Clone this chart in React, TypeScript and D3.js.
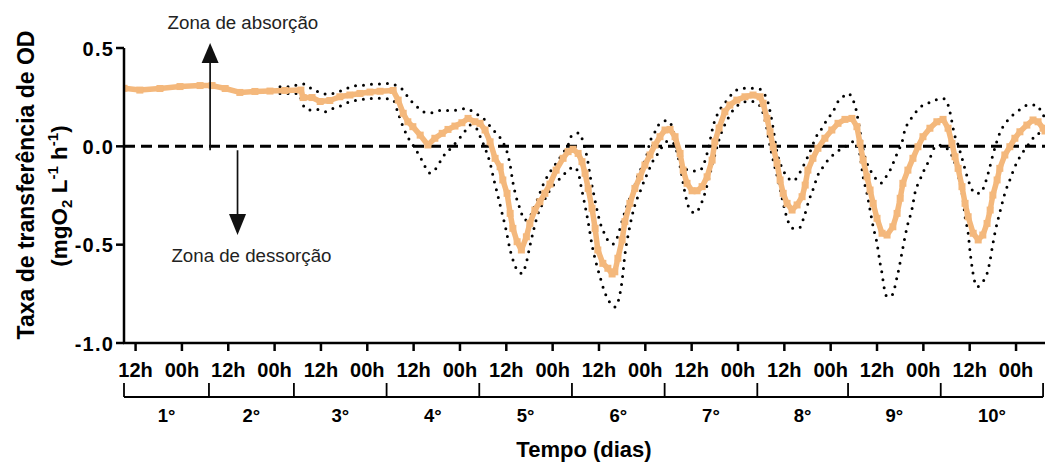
import React from 'react';
import * as d3 from 'd3';

// ---------- data (hours since day 1 00h, transfer rate) ----------
const mean: [number, number][] = [
[9.0,0.295],[13.1,0.286],[18.3,0.294],[23.5,0.304],[28.7,0.309],[31.8,0.309],[35.2,0.294],[39.0,0.274],[42.9,0.279],[46.8,0.281],[50.7,0.284],[54.8,0.286],[55.4,0.248],[57.7,0.248],[59.8,0.228],[62.3,0.233],[64.9,0.252],[67.5,0.261],[70.1,0.269],[72.7,0.276],[75.3,0.280],[78.7,0.284],[80.0,0.235],[81.3,0.168],[82.5,0.125],[83.8,0.100],[85.7,0.057],[87.7,0.007],[89.5,0.041],[91.4,0.066],[92.9,0.086],[94.7,0.103],[96.5,0.120],[98.1,0.142],[99.9,0.125],[101.2,0.117],[102.5,0.083],[103.8,0.023],[105.1,-0.061],[106.4,-0.104],[107.1,-0.171],[108.2,-0.239],[109.0,-0.341],[109.7,-0.417],[110.8,-0.485],[111.9,-0.527],[113.2,-0.460],[114.1,-0.392],[115.4,-0.324],[116.7,-0.282],[118.0,-0.239],[119.3,-0.192],[120.9,-0.121],[122.7,-0.061],[124.0,-0.027],[125.3,-0.015],[126.6,-0.036],[127.6,-0.078],[128.4,-0.137],[129.2,-0.214],[130.2,-0.315],[131.0,-0.417],[131.7,-0.527],[133.0,-0.595],[134.3,-0.620],[135.4,-0.649],[136.1,-0.638],[136.9,-0.569],[138.0,-0.476],[138.7,-0.383],[140.0,-0.290],[141.3,-0.214],[142.6,-0.155],[143.9,-0.095],[145.2,-0.044],[146.5,0.007],[147.8,0.049],[149.1,0.083],[150.4,0.086],[151.7,0.049],[153.0,-0.036],[153.8,-0.121],[154.8,-0.188],[156.1,-0.226],[157.4,-0.226],[158.7,-0.205],[160.0,-0.155],[161.3,-0.070],[162.0,0.023],[163.1,0.093],[164.6,0.176],[165.9,0.210],[167.7,0.235],[169.8,0.252],[171.9,0.261],[173.7,0.252],[174.5,0.219],[175.5,0.142],[176.3,0.074],[177.1,-0.002],[178.1,-0.086],[178.9,-0.171],[179.7,-0.239],[180.7,-0.290],[182.0,-0.324],[183.3,-0.298],[184.6,-0.256],[185.4,-0.197],[186.1,-0.121],[187.4,-0.061],[188.7,-0.010],[190.5,0.041],[192.3,0.083],[193.9,0.117],[195.7,0.137],[197.5,0.142],[198.8,0.100],[199.6,0.015],[200.4,-0.070],[201.4,-0.155],[202.2,-0.222],[203.0,-0.290],[204.0,-0.366],[205.3,-0.442],[206.6,-0.451],[208.1,-0.409],[209.2,-0.341],[210.0,-0.264],[210.7,-0.188],[212.0,-0.121],[213.3,-0.061],[214.6,-0.002],[215.9,0.049],[217.7,0.092],[219.5,0.125],[221.1,0.137],[222.4,0.092],[223.4,0.015],[224.2,-0.053],[225.0,-0.112],[226.0,-0.205],[226.8,-0.290],[227.6,-0.358],[228.9,-0.442],[230.2,-0.476],[231.4,-0.451],[232.5,-0.392],[233.3,-0.324],[234.0,-0.248],[235.1,-0.171],[235.8,-0.112],[237.1,-0.044],[238.4,-0.002],[239.7,0.041],[241.0,0.074],[242.8,0.108],[244.4,0.134],[245.7,0.125],[247.0,0.092],[247.5,0.078]
];

const upper: [number, number][] = [
[49.4,0.303],[52.0,0.303],[53.8,0.312],[55.9,0.317],[57.7,0.291],[59.8,0.275],[61.8,0.264],[64.2,0.275],[66.2,0.290],[68.3,0.307],[70.6,0.310],[72.7,0.315],[75.0,0.317],[77.4,0.320],[79.7,0.308],[81.3,0.286],[82.5,0.252],[84.9,0.201],[87.0,0.173],[89.0,0.171],[90.8,0.182],[93.4,0.182],[95.5,0.185],[97.6,0.192],[99.9,0.169],[102.2,0.139],[104.6,0.083],[105.9,0.057],[107.1,0.022],[108.2,-0.029],[109.0,-0.095],[109.7,-0.182],[110.5,-0.253],[111.5,-0.314],[112.8,-0.375],[113.9,-0.365],[114.9,-0.324],[116.2,-0.263],[117.5,-0.197],[119.3,-0.131],[121.1,-0.080],[122.7,-0.034],[124.0,0.007],[125.0,0.057],[126.8,0.068],[127.9,0.022],[128.9,-0.054],[129.9,-0.171],[130.7,-0.248],[131.5,-0.324],[132.5,-0.400],[133.6,-0.451],[134.6,-0.487],[135.6,-0.497],[136.7,-0.466],[137.7,-0.400],[138.7,-0.334],[139.5,-0.288],[141.3,-0.197],[142.1,-0.146],[143.4,-0.095],[144.4,-0.044],[145.2,0.022],[146.5,0.073],[147.8,0.118],[149.6,0.131],[150.9,0.103],[151.7,0.032],[152.7,-0.044],[153.8,-0.100],[155.1,-0.121],[156.9,-0.126],[158.2,-0.121],[159.5,-0.070],[160.8,0.032],[161.5,0.098],[162.8,0.169],[164.6,0.220],[166.7,0.271],[168.8,0.295],[171.4,0.295],[173.7,0.291],[174.7,0.271],[175.8,0.220],[176.5,0.159],[177.3,0.068],[178.1,-0.029],[179.1,-0.095],[180.4,-0.146],[182.2,-0.176],[184.1,-0.131],[185.4,-0.080],[186.4,-0.039],[188.2,0.047],[189.8,0.093],[191.0,0.134],[192.6,0.176],[193.9,0.227],[195.2,0.252],[196.5,0.269],[197.8,0.235],[198.6,0.185],[199.1,0.134],[199.9,0.042],[200.6,-0.034],[201.4,-0.085],[202.7,-0.136],[204.0,-0.171],[205.0,-0.187],[206.3,-0.156],[207.4,-0.121],[208.4,-0.075],[209.4,-0.027],[210.5,0.023],[211.2,0.083],[212.3,0.125],[213.8,0.168],[215.1,0.198],[217.2,0.219],[219.0,0.235],[221.1,0.244],[222.4,0.210],[223.4,0.125],[223.9,0.073],[225.0,0.007],[226.0,-0.059],[227.0,-0.131],[228.1,-0.197],[229.4,-0.239],[230.7,-0.239],[232.0,-0.188],[233.0,-0.121],[234.0,-0.044],[235.8,0.068],[237.9,0.134],[239.7,0.168],[241.5,0.193],[243.1,0.210],[245.4,0.210],[246.7,0.169],[247.5,0.144]
];

const lower: [number, number][] = [
[49.4,0.269],[52.0,0.269],[54.1,0.269],[55.9,0.193],[57.2,0.185],[59.0,0.188],[61.1,0.176],[63.1,0.193],[65.7,0.210],[67.5,0.227],[69.6,0.235],[71.9,0.241],[74.0,0.244],[76.1,0.244],[78.7,0.235],[80.0,0.168],[81.3,0.098],[82.5,0.047],[83.8,0.007],[85.7,-0.054],[87.0,-0.104],[88.2,-0.136],[90.1,-0.105],[91.4,-0.059],[93.9,-0.004],[95.5,0.032],[97.0,0.068],[98.6,0.108],[100.2,0.093],[101.4,0.042],[102.7,-0.019],[103.8,-0.085],[104.8,-0.171],[105.9,-0.258],[106.9,-0.339],[107.9,-0.421],[109.0,-0.527],[110.0,-0.593],[111.0,-0.634],[112.1,-0.646],[113.1,-0.598],[114.1,-0.507],[115.2,-0.415],[116.2,-0.344],[117.5,-0.288],[119.3,-0.222],[120.9,-0.182],[122.4,-0.155],[124.0,-0.121],[125.5,-0.105],[126.6,-0.131],[127.3,-0.197],[128.1,-0.273],[129.2,-0.385],[130.2,-0.502],[131.2,-0.588],[132.3,-0.665],[133.3,-0.731],[134.6,-0.787],[136.1,-0.817],[137.2,-0.771],[138.0,-0.680],[138.7,-0.553],[139.8,-0.426],[141.3,-0.298],[142.6,-0.232],[143.7,-0.176],[144.7,-0.131],[145.7,-0.085],[147.0,-0.044],[148.3,-0.004],[149.9,0.027],[151.2,0.017],[152.2,-0.029],[153.2,-0.121],[154.5,-0.258],[155.6,-0.324],[156.9,-0.339],[158.2,-0.304],[159.2,-0.253],[160.8,-0.136],[162.0,-0.044],[163.3,0.047],[165.2,0.134],[167.2,0.195],[169.0,0.220],[171.1,0.230],[172.9,0.220],[174.2,0.185],[175.3,0.108],[176.0,0.032],[176.8,-0.044],[177.6,-0.110],[178.6,-0.187],[179.7,-0.288],[181.0,-0.383],[182.2,-0.417],[183.8,-0.417],[185.1,-0.359],[186.4,-0.273],[187.7,-0.205],[188.5,-0.155],[190.0,-0.105],[191.3,-0.070],[193.1,-0.036],[194.9,-0.010],[196.5,0.007],[197.8,0.023],[198.8,0.017],[199.6,-0.044],[200.4,-0.155],[201.4,-0.239],[202.2,-0.324],[203.0,-0.409],[204.0,-0.493],[204.8,-0.595],[205.3,-0.646],[205.8,-0.714],[206.6,-0.765],[207.9,-0.756],[209.2,-0.663],[209.7,-0.619],[210.5,-0.536],[211.8,-0.409],[213.1,-0.315],[213.8,-0.239],[215.1,-0.171],[216.2,-0.121],[217.7,-0.061],[218.5,-0.019],[219.8,0.007],[221.6,-0.004],[222.9,-0.029],[223.9,-0.070],[224.7,-0.121],[225.5,-0.188],[226.3,-0.273],[226.8,-0.358],[227.6,-0.441],[228.1,-0.536],[228.6,-0.612],[229.1,-0.671],[229.9,-0.714],[231.4,-0.688],[232.5,-0.646],[233.3,-0.578],[233.8,-0.519],[234.6,-0.434],[235.3,-0.375],[236.4,-0.290],[237.1,-0.239],[238.4,-0.171],[239.7,-0.104],[241.0,-0.053],[242.8,-0.002],[244.4,0.041],[245.7,0.066],[247.0,0.057],[247.5,0.047]
];

const yTicks = [0.5, 0.0, -0.5, -1.0];
const yTickLabels = ['0.5', '0.0', '-0.5', '-1.0'];
const xTickHours = [12, 24, 36, 48, 60, 72, 84, 96, 108, 120, 132, 144, 156, 168, 180, 192, 204, 216, 228, 240];
const xTickLabels = ['12h','00h','12h','00h','12h','00h','12h','00h','12h','00h','12h','00h','12h','00h','12h','00h','12h','00h','12h','00h'];
const dayBounds = [9, 31, 53, 77, 101, 125, 149, 173, 196.5, 220.5, 247];
const dayLabels = ['1°','2°','3°','4°','5°','6°','7°','8°','9°','10°'];

// annotation anchors in data units
const arrowUp = { t: 31.3, from: -0.02, to: 0.525 };
const arrowDown = { t: 38.4, from: -0.02, to: -0.451 };
const noteAbs = { t: 39.8, v: 0.599, text: 'Zona de absorção' };
const noteDes = { t: 42.0, v: -0.586, text: 'Zona de dessorção' };

const W = 1045, H = 462;
const FONT = "'Liberation Sans', Arial, Helvetica, sans-serif";
const ORANGE = '#F4B87C';

export default function App() {
  const x = d3.scaleLinear().domain([9, 247.5]).range([124, 1045]);
  const y = d3.scaleLinear().domain([-1, 0.5]).range([343, 48]);
  const x0 = x(9), x1 = x(247.5), yb = y(-1), yt = y(0.5);

  const lineLin = d3.line<[number, number]>().x(d => x(d[0])).y(d => y(d[1]));
  const lineSmooth = d3.line<[number, number]>().x(d => x(d[0])).y(d => y(d[1])).curve(d3.curveMonotoneX);

  const bracketY = 397;
  const ms = 7;

  return (
    <div style={{ position: 'absolute', left: 0, top: 0 }}>
      <svg width={W} height={H} viewBox={`0 0 ${W} ${H}`} style={{ display: 'block', background: '#fff' }} fontFamily={FONT}>
        <defs>
          <clipPath id="plotclip">
            <rect x={x0} y={0} width={x1 - x0} height={yb} />
          </clipPath>
        </defs>

        {/* zero line */}
        <line x1={x0} x2={x1} y1={y(0)} y2={y(0)} stroke="#000" strokeWidth={3} strokeDasharray="11 6" />

        <g clipPath="url(#plotclip)">
          <path d={lineSmooth(upper) || ''} fill="none" stroke="#000" strokeWidth={3} strokeDasharray="0 8" strokeLinecap="round" />
          <path d={lineSmooth(lower) || ''} fill="none" stroke="#000" strokeWidth={3} strokeDasharray="0 8" strokeLinecap="round" />
          <path d={lineLin(mean) || ''} fill="none" stroke={ORANGE} strokeWidth={5.5} strokeLinejoin="round" />
          {mean.map((d, i) => (
            <rect key={i} x={x(d[0]) - ms / 2} y={y(d[1]) - ms / 2} width={ms} height={ms} fill={ORANGE} />
          ))}
        </g>

        {/* annotation arrows */}
        <g stroke="#111" strokeWidth={1.7} fill="#111">
          <line x1={x(arrowUp.t)} x2={x(arrowUp.t)} y1={y(arrowUp.from)} y2={y(arrowUp.to) + 18} />
          <polygon stroke="none" points={`${x(arrowUp.t)},${y(arrowUp.to)} ${x(arrowUp.t) - 8.5},${y(arrowUp.to) + 20} ${x(arrowUp.t) + 8.5},${y(arrowUp.to) + 20}`} />
          <line x1={x(arrowDown.t)} x2={x(arrowDown.t)} y1={y(arrowDown.from)} y2={y(arrowDown.to) - 18} />
          <polygon stroke="none" points={`${x(arrowDown.t)},${y(arrowDown.to)} ${x(arrowDown.t) - 8.5},${y(arrowDown.to) - 21} ${x(arrowDown.t) + 8.5},${y(arrowDown.to) - 21}`} />
        </g>
        <text x={x(noteAbs.t)} y={y(noteAbs.v)} textAnchor="middle" fontSize={18.7} fill="#222">{noteAbs.text}</text>
        <text x={x(noteDes.t)} y={y(noteDes.v)} textAnchor="middle" fontSize={18.7} fill="#222">{noteDes.text}</text>

        {/* y axis */}
        <line x1={x0} x2={x0} y1={yt} y2={yb + 1} stroke="#000" strokeWidth={2.5} />
        {yTicks.map((v, i) => (
          <g key={i}>
            <line x1={x0 - 8} x2={x0} y1={y(v)} y2={y(v)} stroke="#000" strokeWidth={2.5} />
            <text x={x0 - 10} y={y(v) + 7.5} textAnchor="end" fontSize={20} fontWeight="bold" letterSpacing={1.2} fill="#000">{yTickLabels[i]}</text>
          </g>
        ))}

        {/* x axis */}
        <line x1={x0 - 1} x2={x1} y1={yb} y2={yb} stroke="#000" strokeWidth={2.5} />
        {xTickHours.map((h, i) => (
          <g key={i}>
            <line x1={x(h)} x2={x(h)} y1={yb} y2={yb + 8} stroke="#000" strokeWidth={2.5} />
            <text x={x(h)} y={376.5} textAnchor="middle" fontSize={20} fontWeight="bold" fill="#000">{xTickLabels[i]}</text>
          </g>
        ))}

        {/* day brackets */}
        <line x1={x(dayBounds[0])} x2={x(dayBounds[dayBounds.length - 1])} y1={bracketY} y2={bracketY} stroke="#000" strokeWidth={1.8} />
        {dayBounds.map((b, i) => (
          <line key={i} x1={x(b)} x2={x(b)} y1={383} y2={bracketY} stroke="#000" strokeWidth={1.8} />
        ))}
        {dayLabels.map((lab, i) => (
          <text key={i} x={x((dayBounds[i] + dayBounds[i + 1]) / 2)} y={421.5} textAnchor="middle" fontSize={18.5} fontWeight="bold" fill="#000">{lab}</text>
        ))}

        {/* axis titles */}
        <text x={584} y={457} textAnchor="middle" fontSize={22} fontWeight="bold" fill="#000">Tempo (dias)</text>
        <text transform="translate(34,185) rotate(-90)" textAnchor="middle" fontSize={23} fontWeight="bold" fill="#000">Taxa de transferência de OD</text>
        <text transform="translate(67,196) rotate(-90)" textAnchor="middle" fontSize={22.5} fontWeight="bold" fill="#000">
          (mgO<tspan fontSize={15} dy={5}>2</tspan>
          <tspan dy={-5}>{' L'}</tspan>
          <tspan fontSize={15} dy={-9}>-1</tspan>
          <tspan dy={9}>{' h'}</tspan>
          <tspan fontSize={15} dy={-9}>-1</tspan>
          <tspan dy={9}>)</tspan>
        </text>
      </svg>
    </div>
  );
}
